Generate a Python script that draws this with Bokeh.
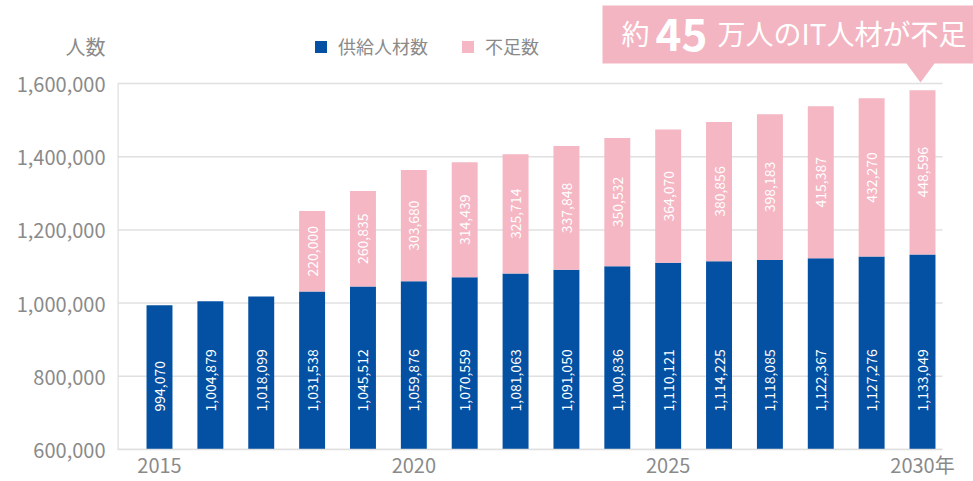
import math
from bokeh.plotting import figure
from bokeh.models import (ColumnDataSource, Range1d, NumeralTickFormatter, Legend,
                          LegendItem, Label, PolyAnnotation, FixedTicker)
from bokeh.core.properties import value
from bokeh.embed import file_html
from bokeh.resources import INLINE

# ---- data ----
years = list(range(2015, 2031))
supply = [994070, 1004879, 1018099, 1031538, 1045512, 1059876, 1070559, 1081063,
          1091050, 1100836, 1110121, 1114225, 1118085, 1122367, 1127276, 1133049]
shortage = [0, 0, 0, 220000, 260835, 303680, 314439, 325714,
            337848, 350532, 364070, 380856, 398183, 415387, 432270, 448596]
series_names = ["供給人材数", "不足数"]
y_ticks = [600000, 800000, 1000000, 1200000, 1400000, 1600000]
x_ticks = [2015, 2020, 2025, 2030]
y_title = "人数"
x_unit = "年"
callout_parts = ["約", "45", "万人のIT人材が不足"]

# ---- style ----
FONT = "Noto Sans CJK JP"
BLUE = "#0451A3"
PINK = "#F5B7C4"
PINK2 = "#F4B5C2"
GRAY = "#8a8a8a"
LINE = "#e0e0e0"

W, H = 973, 481
FL, FB = 117, 449          # frame left / bottom in page pixels
TOP_TICK_PX = 83           # page y of the 1,600,000 line
PX_PER_YEAR = 50.867
PX_PER_UNIT = (FB - TOP_TICK_PX) / (y_ticks[-1] - y_ticks[0])
x_start = 2015 - 42 / PX_PER_YEAR
x_end = x_start + (W - FL) / PX_PER_YEAR
x_axis_end = x_start + (942 - FL) / PX_PER_YEAR
y_start = y_ticks[0]
y_end = y_start + FB / PX_PER_UNIT
y_title_pos = 1_700_000

p = figure(width=W, height=H, output_backend="svg", toolbar_location=None,
           x_range=Range1d(x_start, x_end), y_range=Range1d(y_start, y_end),
           min_border_left=FL, min_border_right=0, min_border_top=0,
           min_border_bottom=H - FB)
p.outline_line_color = None
p.background_fill_color = "white"
p.xgrid.visible = False
p.ygrid.visible = False

# grid lines and y-axis line (limited extent)
p.segment(x0=x_start, y0=y_ticks, x1=x_axis_end, y1=y_ticks,
          line_color=LINE, line_width=1.5)
p.segment(x0=[x_start], y0=[y_ticks[0]], x1=[x_start], y1=[y_ticks[-1]],
          line_color=LINE, line_width=2.5)

src = ColumnDataSource(dict(year=years, supply=supply, shortage=shortage,
                            sup_label=[f"{v:,}" for v in supply]))
rs = p.vbar_stack(["supply", "shortage"], x="year", width=0.51,
                  color=[BLUE, PINK], line_color=None, source=src)

# labels inside blue bars (anchored near the bottom)
p.text(x="year", y=y_start, text="sup_label", source=src, angle=math.pi / 2,
       text_align="left", text_baseline="middle", y_offset=-38,
       text_color="white", text_font=value(FONT), text_font_size="14px")

# labels inside pink segments (centered)
idx = [i for i, s in enumerate(shortage) if s > 0]
src2 = ColumnDataSource(dict(
    year=[years[i] for i in idx],
    mid=[supply[i] + shortage[i] / 2 for i in idx],
    lab=[f"{shortage[i]:,}" for i in idx]))
p.text(x="year", y="mid", text="lab", source=src2, angle=math.pi / 2,
       text_align="center", text_baseline="middle",
       text_color="white", text_font=value(FONT), text_font_size="14px")

# axes
p.yaxis.ticker = FixedTicker(ticks=y_ticks + [y_title_pos])
p.yaxis.formatter = NumeralTickFormatter(format="0,0")
p.yaxis.major_label_overrides = {y_title_pos: y_title}
p.yaxis.axis_line_color = None
p.xaxis.ticker = x_ticks
p.xaxis.major_label_overrides = {x_ticks[-1]: f"{x_ticks[-1]}{x_unit}"}
p.xaxis.bounds = (x_start, x_axis_end)
p.xaxis.axis_line_color = LINE
p.xaxis.axis_line_width = 1.5
for ax in (p.xaxis[0], p.yaxis[0]):
    ax.major_tick_line_color = None
    ax.minor_tick_line_color = None
    ax.major_tick_out = 0
    ax.major_tick_in = 0
    ax.minor_tick_out = 0
    ax.minor_tick_in = 0
    ax.major_label_text_color = GRAY
    ax.major_label_text_font = FONT
    ax.major_label_text_font_size = "20px"
p.yaxis.major_label_standoff = 12
p.xaxis.major_label_standoff = 0

legend = Legend(items=[LegendItem(label=series_names[0], renderers=[rs[0]]),
                       LegendItem(label=series_names[1], renderers=[rs[1]])],
                orientation="horizontal", location=(196, 390),
                glyph_width=15, glyph_height=15, label_standoff=10, spacing=32,
                padding=0, margin=0, border_line_color=None,
                background_fill_alpha=0, label_text_font=FONT,
                label_text_font_size="18px", label_text_color=GRAY)
p.add_layout(legend)


def sx(px):
    return px - FL


def sy(py):
    return FB - py


# callout box
bx = [602, 980, 980, 934, 920, 906, 602]
by = [5, 5, 63, 63, 82, 63, 63]
p.add_layout(PolyAnnotation(xs=[sx(v) for v in bx], ys=[sy(v) for v in by],
                            xs_units="screen", ys_units="screen",
                            fill_color=PINK2, fill_alpha=1.0, line_color=None))
p.add_layout(Label(x=sx(621), y=sy(32), x_units="screen", y_units="screen",
                   text=callout_parts[0], text_baseline="alphabetic",
                   text_color="white", text_font=FONT, text_font_size="28px"))
p.add_layout(Label(x=sx(655), y=sy(34), x_units="screen", y_units="screen",
                   text=callout_parts[1], text_baseline="alphabetic",
                   text_color="white", text_font=FONT, text_font_size="44px",
                   text_font_style="bold"))
p.add_layout(Label(x=sx(717), y=sy(32), x_units="screen", y_units="screen",
                   text=callout_parts[2], text_baseline="alphabetic",
                   text_color="white", text_font=FONT, text_font_size="28px"))

open("out.html", "w").write(file_html(p, INLINE))
